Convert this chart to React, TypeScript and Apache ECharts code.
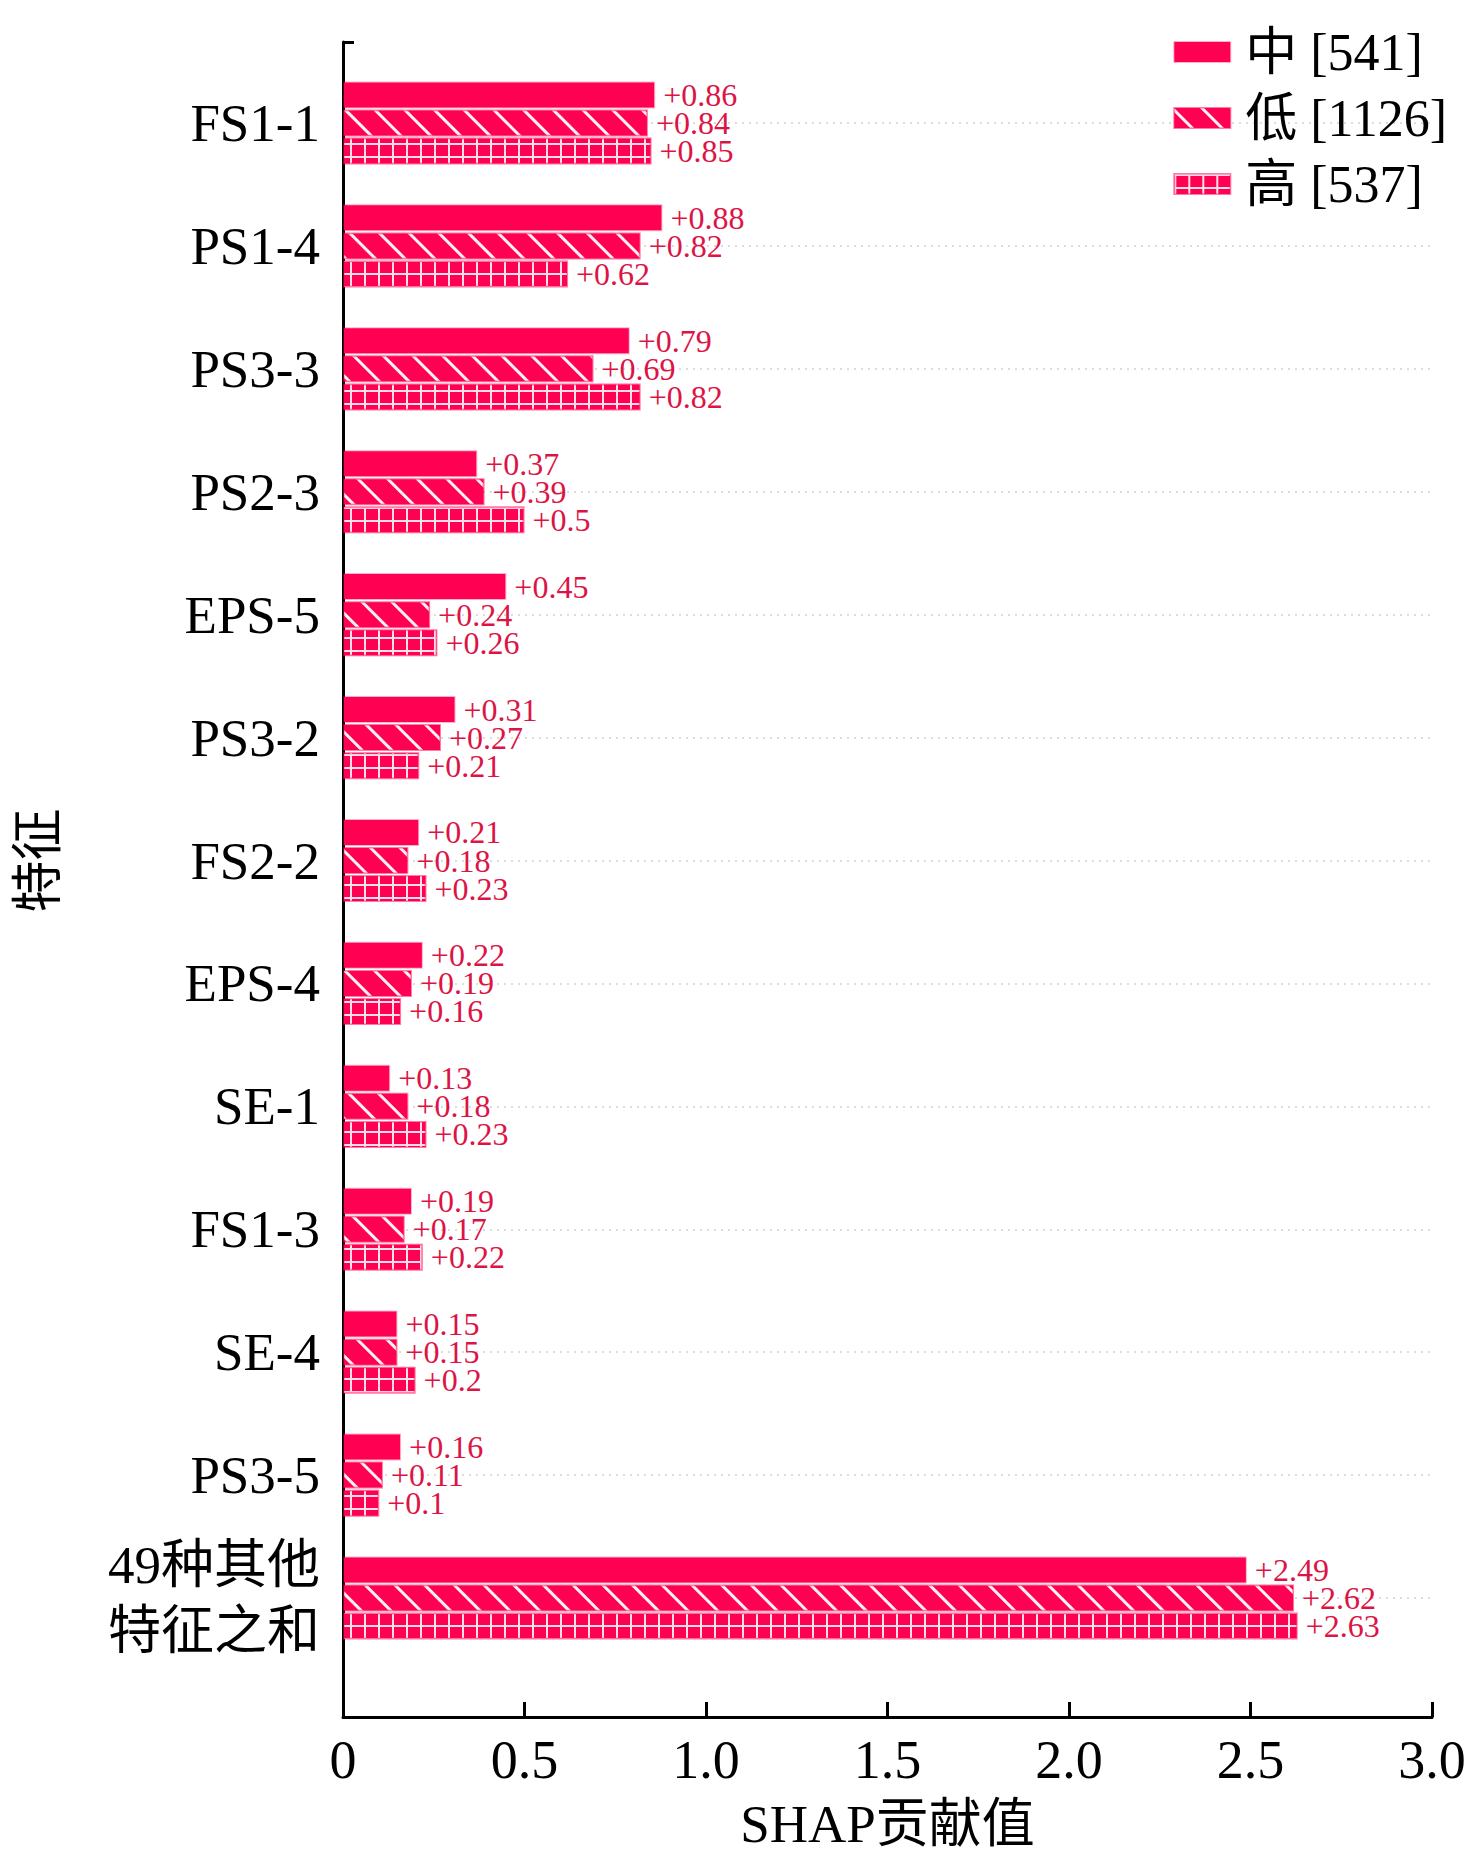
import React, { useEffect, useRef } from "react";
import * as echarts from "echarts";

const categories = [
  "FS1-1",
  "PS1-4",
  "PS3-3",
  "PS2-3",
  "EPS-5",
  "PS3-2",
  "FS2-2",
  "EPS-4",
  "SE-1",
  "FS1-3",
  "SE-4",
  "PS3-5",
  "49种其他\n特征之和",
];
const midValues = [0.86, 0.88, 0.79, 0.37, 0.45, 0.31, 0.21, 0.22, 0.13, 0.19, 0.15, 0.16, 2.49];
const lowValues = [0.84, 0.82, 0.69, 0.39, 0.24, 0.27, 0.18, 0.19, 0.18, 0.17, 0.15, 0.11, 2.62];
const highValues = [0.85, 0.62, 0.82, 0.5, 0.26, 0.21, 0.23, 0.16, 0.23, 0.22, 0.2, 0.1, 2.63];
const seriesNames = ["中 [541]", "低 [1126]", "高 [537]"];
const xMin = 0;
const xMax = 3;
const xInterval = 0.5;
const xAxisName = "SHAP贡献值";
const yAxisName = "特征";

const FONT = "'Liberation Serif', 'Times New Roman', 'Noto Sans CJK SC', serif";
const BAR = "#ff0052";
const LABEL = "#dc1446";

export default function App() {
  const ref = useRef<HTMLDivElement>(null);
  useEffect(() => {
    if (!ref.current) return;
    const chart = echarts.init(ref.current, null, { renderer: "svg" });
    const barBase = {
      type: "bar",
      xAxisIndex: 1,
      yAxisIndex: 1,
      barWidth: 27,
      barGap: "4%",
      label: {
        show: true,
        position: "right",
        distance: 8,
        color: LABEL,
        fontFamily: FONT,
        fontSize: 32,
        lineHeight: 27,
        formatter: (p: any) => "+" + p.value,
      },
    };
    const border = { borderColor: "rgba(255,0,82,0.3)", borderWidth: 2 };
    chart.setOption({
      animation: false,
      backgroundColor: "#ffffff",
      textStyle: { fontFamily: FONT },
      grid: [
        { left: 343, right: 44, top: 42, bottom: 143, containLabel: false },
        { left: 343, right: 44, top: 123, bottom: 262, containLabel: false },
      ],
      legend: {
        orient: "vertical",
        right: 24,
        top: 14,
        align: "left",
        icon: "rect",
        itemWidth: 56,
        itemHeight: 20,
        itemGap: 0,
        textStyle: {
          fontFamily: FONT,
          fontSize: 52,
          lineHeight: 66,
          color: "#000",
          padding: [0, 0, 0, 10],
        },
        data: seriesNames,
      },
      xAxis: [
        {
          type: "value",
          gridIndex: 0,
          min: xMin,
          max: xMax,
          interval: xInterval,
          name: xAxisName,
          nameLocation: "middle",
          nameGap: 80,
          nameTextStyle: { fontFamily: FONT, fontSize: 53, color: "#000" },
          axisLine: { show: true, lineStyle: { color: "#000", width: 3 } },
          axisTick: { show: true, inside: true, length: 15, lineStyle: { color: "#000", width: 3 } },
          axisLabel: {
            fontFamily: FONT,
            fontSize: 54,
            color: "#000",
            margin: 16,
            formatter: (v: number) => (v === 0 ? "0" : v.toFixed(1)),
          },
          splitLine: { show: false },
        },
        {
          type: "value",
          gridIndex: 1,
          min: xMin,
          max: xMax,
          interval: xInterval,
          show: false,
          splitLine: { show: false },
        },
      ],
      yAxis: [
        {
          type: "value",
          gridIndex: 0,
          min: 0,
          max: 1,
          interval: 1,
          axisLine: { show: true, lineStyle: { color: "#000", width: 3 } },
          axisTick: { show: true, inside: true, length: 11, lineStyle: { color: "#000", width: 3 } },
          axisLabel: { show: false },
          splitLine: { show: false },
        },
        {
          type: "category",
          gridIndex: 1,
          data: categories,
          inverse: true,
          boundaryGap: false,
          name: yAxisName,
          nameLocation: "middle",
          nameGap: 279,
          nameRotate: 90,
          nameTextStyle: { fontFamily: FONT, fontSize: 52, color: "#000" },
          axisLine: { show: false },
          axisTick: { show: false },
          axisLabel: {
            fontFamily: FONT,
            fontSize: 53,
            color: "#000",
            margin: 23,
            lineHeight: 66,
            align: "right",
          },
          splitLine: {
            show: true,
            lineStyle: { color: "#dcdcdc", width: 2, type: [2, 5] },
          },
        },
      ],
      series: [
        {
          ...barBase,
          name: seriesNames[0],
          data: midValues,
          itemStyle: { color: BAR, ...border },
        },
        {
          ...barBase,
          name: seriesNames[1],
          data: lowValues,
          itemStyle: {
            color: BAR,
            ...border,
            decal: {
              symbol: "rect",
              symbolSize: 1,
              symbolKeepAspect: false,
              color: "rgba(255,255,255,0.95)",
              dashArrayX: [1, 0],
              dashArrayY: [2.5, 17.5],
              rotation: Math.PI / 4,
            },
          },
        },
        {
          ...barBase,
          name: seriesNames[2],
          data: highValues,
          itemStyle: {
            color: BAR,
            ...border,
            decal: {
              symbol: "rect",
              symbolSize: 1,
              symbolKeepAspect: false,
              color: "rgba(255,235,242,0.95)",
              dashArrayX: [
                [14, 0],
                [2, 12],
              ],
              dashArrayY: [2, 0, 11, 0],
              rotation: 0,
            },
          },
        },
      ],
    });
    return () => chart.dispose();
  }, []);
  return (
    <div
      ref={ref}
      style={{ position: "fixed", left: 0, top: 0, width: 1476, height: 1860, background: "#fff" }}
    />
  );
}
